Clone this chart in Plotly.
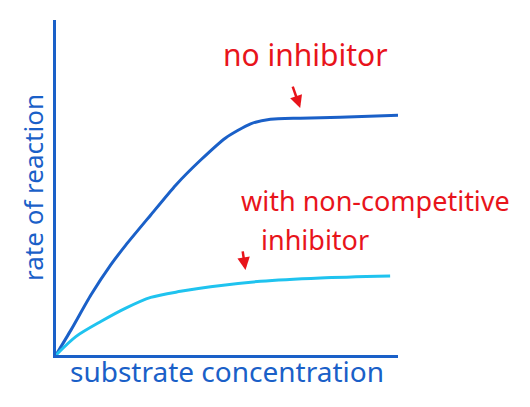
import plotly.graph_objects as go

# substrate concentration (arbitrary units) and reaction rates
x_none = [0, 0.44, 1.02, 1.6, 2.04, 2.77, 3.5, 4.23, 4.96, 5.69, 6.27, 7.14, 8.31, 10]
y_none = [0, 0.75, 1.79, 2.69, 3.28, 4.18, 5.07, 5.82, 6.48, 6.9, 7.04, 7.07, 7.1, 7.16]
x_nc = [0, 0.58, 1.31, 2.04, 2.77, 3.64, 4.52, 5.98, 7.73, 9.77]
y_nc = [0, 0.55, 1.0, 1.4, 1.72, 1.9, 2.04, 2.2, 2.3, 2.36]

blue = '#1a60c8'
light = '#1fc3ef'
red = '#e8141b'
fnt = 'Noto Sans'

fig = go.Figure()
fig.add_trace(go.Scatter(x=x_none, y=y_none, mode='lines', line=dict(color=blue, width=3, shape='spline', smoothing=0.6)))
fig.add_trace(go.Scatter(x=x_nc, y=y_nc, mode='lines', line=dict(color=light, width=3, shape='spline', smoothing=0.8)))

# labels
fig.add_annotation(x=7.29, y=8.96, text='no inhibitor', showarrow=False,
                   font=dict(family=fnt, size=30, color=red))
fig.add_annotation(x=7.14, y=7.37, text='', showarrow=True, ax=-8, ay=-23,
                   arrowhead=2, arrowwidth=2.5, arrowcolor=red)
fig.add_annotation(x=9.33, y=4.6, text='with non-competitive', showarrow=False,
                   font=dict(family=fnt, size=27, color=red))
fig.add_annotation(x=7.58, y=3.45, text='inhibitor', showarrow=False,
                   font=dict(family=fnt, size=27, color=red))
fig.add_annotation(x=5.54, y=2.54, text='', showarrow=True, ax=-3, ay=-20,
                   arrowhead=2, arrowwidth=2.5, arrowcolor=red)

fig.update_layout(
    width=530, height=407, showlegend=False,
    plot_bgcolor='white', paper_bgcolor='white',
    margin=dict(l=48, r=140, t=12, b=60),
    xaxis=dict(range=[0, 10], showline=True, linecolor=blue, linewidth=3,
               showticklabels=False, ticks='', showgrid=False, zeroline=False,
               title=dict(text='substrate concentration', standoff=6,
                          font=dict(family=fnt, size=28, color=blue))),
    yaxis=dict(range=[0, 10], showline=True, linecolor=blue, linewidth=3,
               showticklabels=False, ticks='', showgrid=False, zeroline=False,
               title=dict(text='rate of reaction', standoff=2,
                          font=dict(family=fnt, size=26, color=blue))),
)
fig.write_html("out.html")
